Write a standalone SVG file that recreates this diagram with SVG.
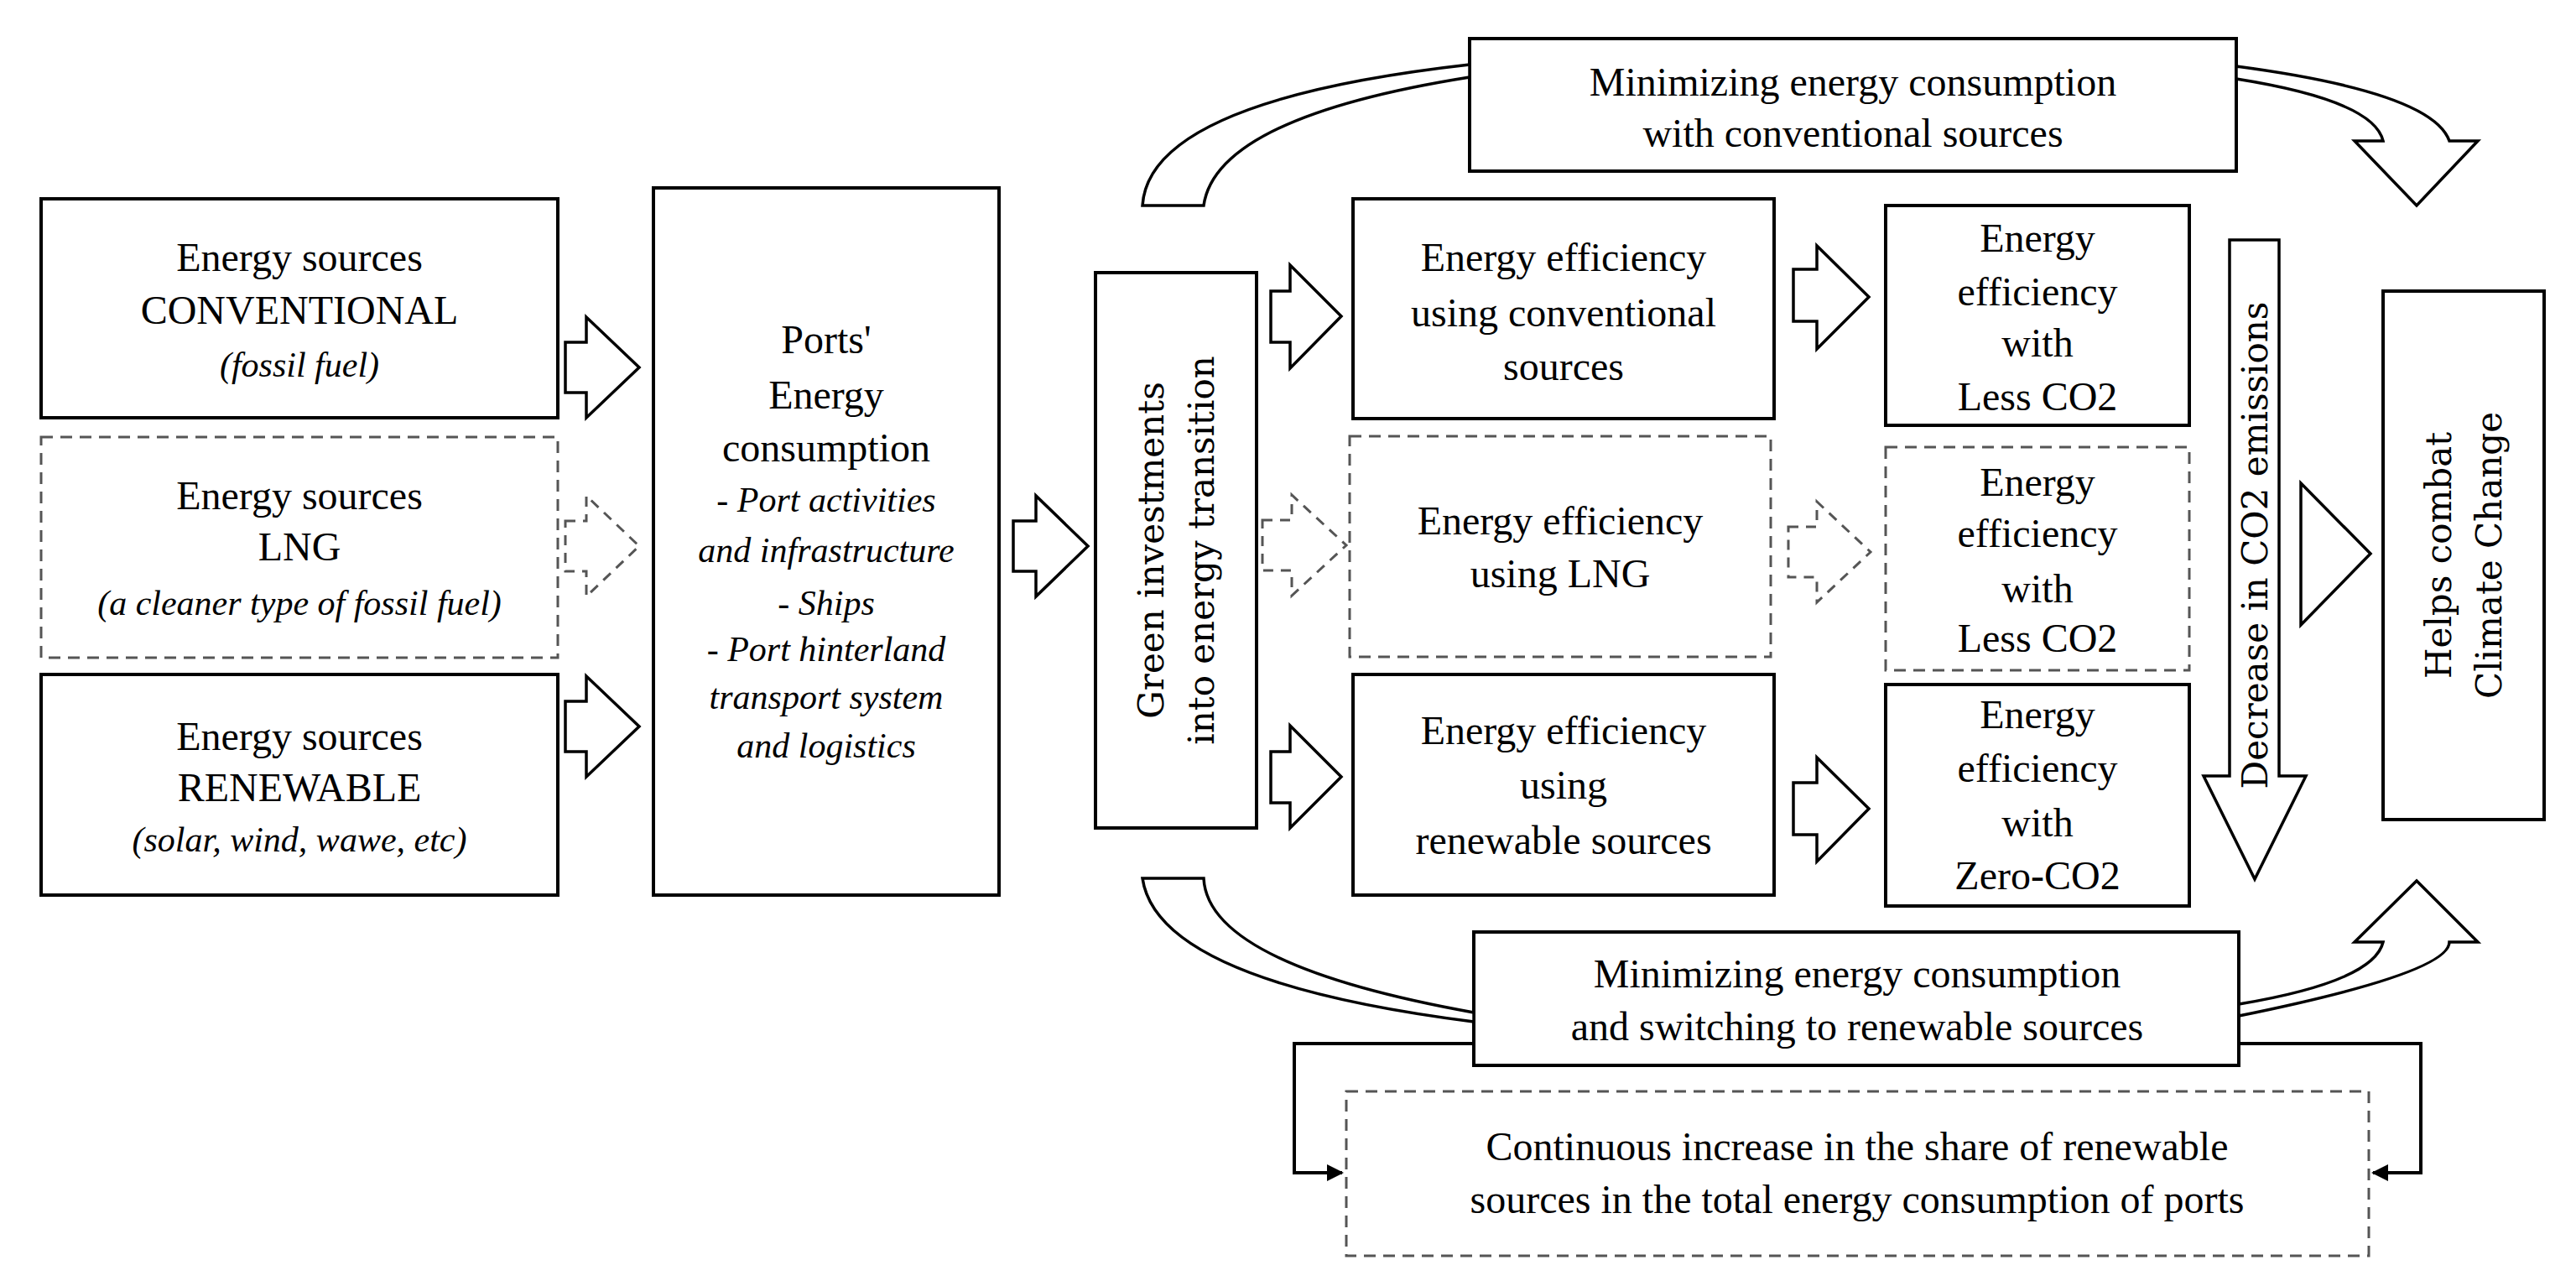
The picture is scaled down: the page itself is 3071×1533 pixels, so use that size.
<svg xmlns="http://www.w3.org/2000/svg" width="3071" height="1533" viewBox="0 0 3071 1533">
<style>
.b{fill:#fff;stroke:#000;stroke-width:4}
.d{fill:#fff;stroke:#555;stroke-width:3;stroke-dasharray:14 9}
.a{fill:#fff;stroke:#000;stroke-width:3.5}
.da{fill:#fff;stroke:#555;stroke-width:3;stroke-dasharray:12 9}
.l{fill:none;stroke:#000;stroke-width:4}
text{font-family:"Liberation Serif",serif;font-size:48px;text-anchor:middle;dominant-baseline:central;fill:#000}
.i{font-style:italic;font-size:42px}
.w{font-family:"DejaVu Serif",serif;font-size:42px}
</style>
<defs>
<marker id="m" viewBox="0 0 10 10" refX="9" refY="5" markerWidth="5" markerHeight="5" orient="auto"><path d="M0 0L10 5L0 10z" fill="#000"/></marker>
</defs>
<rect width="3071" height="1533" fill="#fff"/>
<g id="src-conv"><rect class="b" x="49" y="237" width="616" height="261"/><text x="357" y="306">Energy sources</text><text x="357" y="369">CONVENTIONAL</text><text class="i" x="357" y="435">(fossil fuel)</text></g>
<g id="src-lng"><rect class="d" x="49" y="521" width="616" height="263"/><text x="357" y="590">Energy sources</text><text x="357" y="651">LNG</text><text class="i" x="357" y="719">(a cleaner type of fossil fuel)</text></g>
<g id="src-ren"><rect class="b" x="49" y="804" width="616" height="263"/><text x="357" y="877">Energy sources</text><text x="357" y="938">RENEWABLE</text><text class="i" x="357" y="1001">(solar, wind, wawe, etc)</text></g>
<g id="ports"><rect class="b" x="779" y="224" width="412" height="843"/><text x="985" y="404">Ports'</text><text x="985" y="470">Energy</text><text x="985" y="533">consumption</text><text class="i" x="985" y="596">- Port activities</text><text class="i" x="985" y="656">and infrastructure</text><text class="i" x="985" y="719">-  Ships</text><text class="i" x="985" y="774">- Port hinterland</text><text class="i" x="985" y="831">transport system</text><text class="i" x="985" y="889">and logistics</text></g>
<g id="green"><rect class="b" x="1306" y="325" width="192" height="662"/><text class="w" transform="translate(1402 656) rotate(-90)"><tspan x="0" y="-30">Green investments</tspan><tspan x="0" y="30">into energy transition</tspan></text></g>
<g id="min-top"><rect class="b" x="1752" y="46" width="914" height="158"/><text x="2209" y="97">Minimizing energy consumption</text><text x="2209" y="158">with conventional sources</text></g>
<g id="eff-conv"><rect class="b" x="1613" y="237" width="502" height="262"/><text x="1864" y="306">Energy efficiency</text><text x="1864" y="372">using conventional</text><text x="1864" y="436">sources</text></g>
<g id="eff-lng"><rect class="d" x="1609" y="520" width="502" height="263"/><text x="1860" y="620">Energy efficiency</text><text x="1860" y="683">using LNG</text></g>
<g id="eff-ren"><rect class="b" x="1613" y="804" width="502" height="263"/><text x="1864" y="870">Energy efficiency</text><text x="1864" y="935">using</text><text x="1864" y="1001">renewable sources</text></g>
<g id="co2-conv"><rect class="b" x="2248" y="245" width="362" height="262"/><text x="2429" y="283">Energy</text><text x="2429" y="347">efficiency</text><text x="2429" y="408">with</text><text x="2429" y="472">Less CO2</text></g>
<g id="co2-lng"><rect class="d" x="2248" y="533" width="362" height="266"/><text x="2429" y="574">Energy</text><text x="2429" y="635">efficiency</text><text x="2429" y="701">with</text><text x="2429" y="760">Less CO2</text></g>
<g id="co2-ren"><rect class="b" x="2248" y="816" width="362" height="264"/><text x="2429" y="851">Energy</text><text x="2429" y="915">efficiency</text><text x="2429" y="980">with</text><text x="2429" y="1043">Zero-CO2</text></g>
<g id="decrease"><path class="a" d="M2658 286H2717V925H2749L2688 1048L2627 925H2658Z"/><text class="w" transform="translate(2688 650) rotate(-90)">Decrease in CO2 emissions</text></g>
<g id="helps"><rect class="b" x="2841" y="347" width="192" height="630"/><text class="w" transform="translate(2937 662) rotate(-90)"><tspan x="0" y="-30">Helps combat</tspan><tspan x="0" y="30">Climate Change</tspan></text></g>
<g id="min-bot"><rect class="b" x="1757" y="1111" width="912" height="159"/><text x="2214" y="1160">Minimizing energy consumption</text><text x="2214" y="1223">and switching to renewable sources</text></g>
<g id="cont"><rect class="d" x="1605" y="1301" width="1219" height="196"/><text x="2214" y="1366">Continuous increase in the share of renewable</text><text x="2214" y="1429">sources in the total energy consumption of ports</text></g>
<g id="connectors">
<path class="a" d="M674 408H699V378L762 438L699 498V468H674Z"/>
<path class="da" d="M674 621H699V591L762 651L699 711V681H674Z"/>
<path class="a" d="M674 836H699V806L762 866L699 926V896H674Z"/>
<path class="a" d="M1208 621H1235V591L1297 651L1235 711V681H1208Z"/>
<path class="a" d="M1515 347H1538V316L1599 377L1538 439V408H1515Z"/>
<path class="da" d="M1505 620H1540V590L1605 650L1540 710V680H1505Z"/>
<path class="a" d="M1515 896H1538V865L1599 926L1538 987V957H1515Z"/>
<path class="a" d="M2138 321H2166V293L2228 354L2166 416V383H2138Z"/>
<path class="da" d="M2132 628H2166V598L2230 658L2166 718V688H2132Z"/>
<path class="a" d="M2138 933H2166V903L2228 964L2166 1027V995H2138Z"/>
<path class="a" d="M2743 576L2826 660L2743 745Z"/>
<path class="a" d="M1362 245Q1370 120 1752 77L1752 92Q1450 140 1435 245Z"/>
<path class="a" d="M2666 79Q2900 110 2920 168L2954 168L2881 245L2807 168L2841 168Q2830 120 2666 94Z"/>
<path class="a" d="M1362 1047Q1380 1170 1757 1218L1757 1207Q1440 1150 1435 1047Z"/>
<path class="a" d="M2669 1211Q2920 1160 2920 1123L2954 1123L2881 1050L2807 1123L2841 1123Q2830 1170 2669 1197Z"/>
<path class="l" d="M1757 1244H1543V1398H1600" marker-end="url(#m)"/>
<path class="l" d="M2669 1244H2886V1398H2829" marker-end="url(#m)"/>
</g>
</svg>
